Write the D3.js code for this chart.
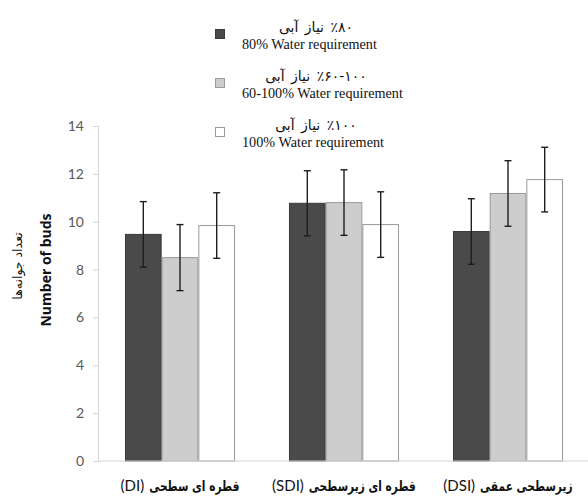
<!DOCTYPE html>
<html>
<head>
<meta charset="utf-8">
<script src="https://cdn.jsdelivr.net/npm/d3@7"></script>
<style>
  html, body { margin: 0; padding: 0; background: #fff; }
  svg { display: block; }
</style>
</head>
<body>
<svg id="chart" width="588" height="497"></svg>
<script>
// Irrigation methods (x categories): Persian name + English abbreviation
const categories = ["DI", "SDI", "DSI"];
const categoryNamesFa = ["قطره ای سطحی", "قطره ای زیرسطحی", "زیرسطحی عمقی"];

// Water-requirement treatments (series)
const seriesKeys = ["w80", "w60_100", "w100"];
const seriesLabelsFa = ["٪۸۰ نیاز آبی", "٪۶۰-۱۰۰ نیاز آبی", "٪۱۰۰ نیاز آبی"];
const seriesLabelsEn = ["80% Water requirement", "60-100% Water requirement", "100% Water requirement"];

// Number of buds per method (rows follow categories, columns follow seriesKeys)
const budsDI  = [9.47, 8.50, 9.84];
const budsSDI = [10.77, 10.80, 9.88];
const budsDSI = [9.59, 11.18, 11.76];

// Standard error for each bar
const errDI  = [1.37, 1.38, 1.37];
const errSDI = [1.36, 1.37, 1.37];
const errDSI = [1.37, 1.37, 1.35];

const yTicks = [0, 2, 4, 6, 8, 10, 12, 14];

const values = [budsDI, budsSDI, budsDSI];
const errors = [errDI, errSDI, errDSI];

const fills   = ["#4a4a4a", "#cdcdcd", "#ffffff"];
const strokes = ["#3a3a3a", "#9a9a9a", "#9a9a9a"];

const svg = d3.select("#chart");

const x0 = d3.scaleBand().domain(categories).range([98, 590]).padding(0);
const x1 = d3.scaleBand().domain(seriesKeys).range([0, x0.bandwidth()])
  .paddingInner(0).paddingOuter(0.735);
const y = d3.scaleLinear().domain([0, 14]).range([461, 126]);

// y axis: light vertical line, short outside ticks, grey labels
const yAxis = svg.append("g")
  .attr("transform", "translate(98,0)")
  .call(d3.axisLeft(y).tickValues(yTicks).tickSize(5).tickPadding(9).tickFormat(d3.format("d")));
yAxis.select(".domain").attr("stroke", "#d4d4d4");
yAxis.selectAll(".tick line").attr("stroke", "#d4d4d4");
yAxis.selectAll(".tick text")
  .attr("fill", "#595959")
  .style("font-family", "Lato, 'Open Sans', sans-serif")
  .style("font-size", "14px");

// bars
const data = [];
categories.forEach((c, i) => seriesKeys.forEach((k, j) => {
  data.push({ cat: c, key: k, j, v: values[i][j], e: errors[i][j] });
}));

svg.append("g").selectAll("rect").data(data).join("rect")
  .attr("x", d => x0(d.cat) + x1(d.key) + 0.5)
  .attr("y", d => y(d.v))
  .attr("width", x1.bandwidth() - 1)
  .attr("height", d => y(0) - y(d.v))
  .attr("fill", d => fills[d.j])
  .attr("stroke", d => strokes[d.j])
  .attr("stroke-width", 1);

// baseline
svg.append("line")
  .attr("x1", 98).attr("x2", 590)
  .attr("y1", y(0)).attr("y2", y(0))
  .attr("stroke", "#d4d4d4").attr("stroke-width", 1);

// error bars
const eb = svg.append("g").attr("stroke", "#1e1e1e").attr("stroke-width", 1.4);
data.forEach(d => {
  const cx = x0(d.cat) + x1(d.key) + x1.bandwidth() / 2;
  eb.append("line").attr("x1", cx).attr("x2", cx).attr("y1", y(d.v + d.e)).attr("y2", y(d.v - d.e));
  [d.v + d.e, d.v - d.e].forEach(t => {
    eb.append("line").attr("x1", cx - 3.5).attr("x2", cx + 3.5).attr("y1", y(t)).attr("y2", y(t));
  });
});

// x category labels: abbreviation on the left, condensed bold Persian name on the right
const faScaleX = 0.76;
const gap = 5;
categories.forEach((c, i) => {
  const cx = x0(c) + x0.bandwidth() / 2;
  const g = svg.append("g");
  const lat = g.append("text")
    .attr("y", 491)
    .attr("fill", "#111")
    .style("font-family", "Lato, 'Open Sans', sans-serif")
    .style("font-size", "15px")
    .text("(" + c + ")");
  const fa = g.append("text")
    .attr("direction", "rtl")
    .attr("text-anchor", "end")
    .attr("fill", "#111")
    .style("font-family", "'DejaVu Sans', sans-serif")
    .style("font-weight", "bold")
    .style("font-size", "14px")
    .text(categoryNamesFa[i]);
  const wl = lat.node().getComputedTextLength();
  const wf = fa.node().getComputedTextLength() * faScaleX;
  const left = cx - (wl + gap + wf) / 2;
  lat.attr("x", left);
  fa.attr("transform", `translate(${left + wl + gap},491) scale(${faScaleX},1)`);
});

// y title
svg.append("text")
  .attr("transform", "translate(51,270) rotate(-90)")
  .attr("text-anchor", "middle")
  .attr("fill", "#111")
  .style("font-family", "'Open Sans', sans-serif")
  .style("font-weight", "bold")
  .style("font-size", "14px")
  .text("Number of buds");
svg.append("text")
  .attr("transform", "translate(22,266) rotate(-90)")
  .attr("text-anchor", "middle")
  .attr("direction", "rtl")
  .attr("fill", "#111")
  .style("font-family", "'DejaVu Sans', sans-serif")
  .style("font-size", "12.5px")
  .text("تعداد جوانه‌ها");

// legend
const legendRows = [0, 1, 2];
const legendY = [34, 83, 132];
legendRows.forEach(j => {
  svg.append("rect")
    .attr("x", 215.5).attr("y", legendY[j] - 4.5)
    .attr("width", 9).attr("height", 9)
    .attr("fill", fills[j]).attr("stroke", strokes[j]).attr("stroke-width", 1);
  svg.append("text")
    .attr("x", 316).attr("y", legendY[j] - 2)
    .attr("text-anchor", "middle")
    .attr("direction", "rtl")
    .attr("fill", "#111")
    .style("font-family", "'DejaVu Sans', sans-serif")
    .style("font-size", "14px")
    .style("word-spacing", "2px")
    .text(seriesLabelsFa[j]);
  svg.append("text")
    .attr("x", 242).attr("y", legendY[j] + 15)
    .attr("fill", "#111")
    .style("font-family", "'Liberation Serif', serif")
    .style("font-size", "14.2px")
    .text(seriesLabelsEn[j]);
});
</script>
</body>
</html>
